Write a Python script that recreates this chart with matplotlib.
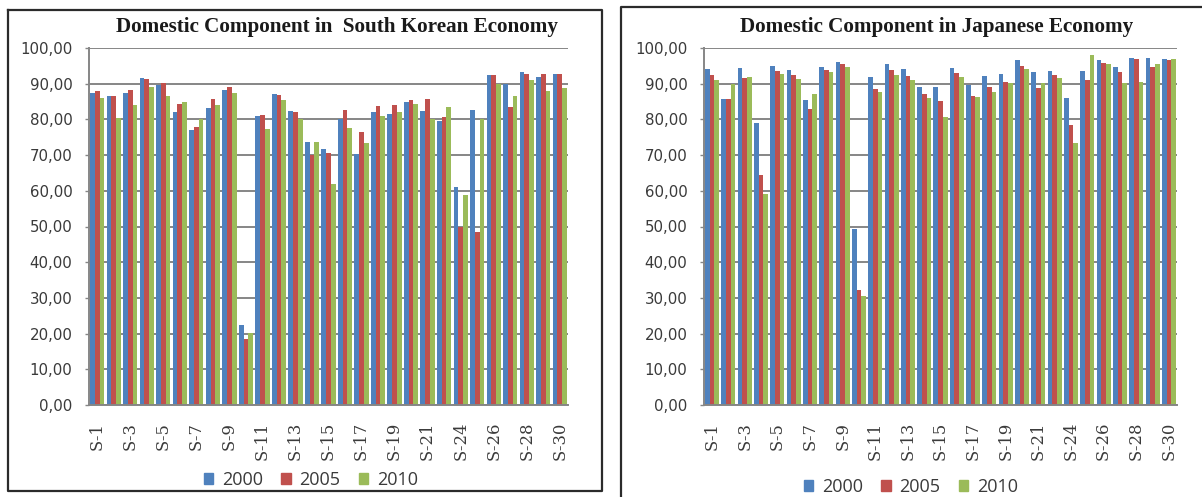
import matplotlib
matplotlib.use("Agg")
import matplotlib.pyplot as plt
from matplotlib.patches import Rectangle
from matplotlib.lines import Line2D
import numpy as np

# Sectors (S-22 is not part of the series)
sectors = [f"S-{i}" for i in range(1, 22)] + ["S-23"] + [f"S-{i}" for i in range(24, 31)]
years = ["2000", "2005", "2010"]

korea_2000 = [87.5, 86.5, 87.3, 91.5, 89.7, 82.0, 77.0, 83.3, 88.2, 22.5,
              81.0, 87.0, 82.3, 73.7, 71.8, 80.0, 70.3, 82.0, 81.5, 85.0,
              82.3, 79.6, 61.0, 82.5, 92.5, 90.0, 93.2, 91.8, 92.6]
korea_2005 = [88.0, 86.5, 88.2, 91.3, 90.2, 84.2, 78.0, 85.7, 89.2, 18.5,
              81.2, 86.8, 82.0, 70.0, 70.5, 82.5, 76.5, 83.8, 84.0, 85.5,
              85.8, 80.8, 50.0, 48.5, 92.5, 83.5, 92.7, 92.7, 92.6]
korea_2010 = [86.0, 80.5, 84.0, 89.0, 86.5, 85.0, 80.0, 84.0, 87.3, 20.3,
              77.3, 85.5, 80.0, 73.7, 61.8, 77.5, 73.3, 81.0, 82.0, 84.3,
              80.0, 83.5, 58.7, 80.0, 90.0, 86.5, 91.0, 88.0, 88.7]

japan_2000 = [94.2, 85.6, 94.5, 79.0, 95.0, 93.8, 85.5, 94.7, 96.0, 49.3,
              92.0, 95.5, 94.2, 89.0, 89.0, 94.4, 89.7, 92.2, 92.7, 96.5,
              93.3, 93.5, 86.0, 93.5, 96.6, 94.8, 97.3, 97.3, 96.8]
japan_2005 = [92.3, 85.6, 91.5, 64.3, 93.6, 92.3, 83.0, 93.8, 95.4, 32.3,
              88.5, 93.8, 92.2, 87.0, 85.2, 93.0, 86.5, 89.0, 90.5, 95.0,
              88.8, 92.5, 78.5, 91.0, 95.8, 93.4, 97.0, 94.7, 96.6]
japan_2010 = [91.0, 90.0, 92.0, 59.0, 92.8, 91.2, 87.0, 93.3, 94.8, 30.5,
              87.8, 92.5, 91.0, 86.0, 80.8, 92.0, 86.3, 87.8, 90.2, 94.0,
              90.2, 91.5, 73.5, 98.0, 95.6, 90.2, 90.5, 95.6, 96.8]

y_ticks = list(range(0, 101, 10))
y_tick_labels = [f"{v:.2f}".replace(".", ",") for v in y_ticks]

colors = ["#4F81BD", "#C0504D", "#9BBB59"]
grid_color = "#868686"
text_color = "#3a3a3a"

W, H = 1202, 497
fig = plt.figure(figsize=(W / 100, H / 100), dpi=100)
fig.patch.set_facecolor("white")


def fx(px):
    return px / W


def fy(py):
    return 1 - py / H


def panel(left, right, title, title_x, series, legend_x, legend_y):
    ax = fig.add_axes([fx(left), fy(405), fx(right - left), fy(48) - fy(405)])
    x = np.arange(len(sectors))
    bw = 0.287
    for k, (vals, c) in enumerate(zip(series, colors)):
        ax.bar(x + (k - 1) * bw, vals, width=bw, color=c, linewidth=0, zorder=2)
    ax.set_xlim(-0.5, len(sectors) - 0.5)
    ax.set_ylim(0, 100)
    ax.set_yticks(y_ticks)
    ax.set_yticklabels(y_tick_labels, family="DejaVu Sans", fontsize=10.8,
                       color=text_color)
    ax.set_xticks(x[::2])
    ax.set_xticklabels(sectors[::2], rotation=90, family="DejaVu Serif",
                       fontsize=11.8, color=text_color)
    ax.tick_params(axis="x", length=0, pad=12)
    ax.tick_params(axis="y", length=3, width=1, color=grid_color, pad=9)
    ax.grid(axis="y", color=grid_color, linewidth=1.4, zorder=0)
    ax.set_axisbelow(True)
    for s in ("top", "right"):
        ax.spines[s].set_visible(False)
    for s in ("left", "bottom"):
        ax.spines[s].set_color(grid_color)
        ax.spines[s].set_linewidth(1.4)
    fig.text(fx(title_x), fy(27), title, ha="center", va="center",
             family="Liberation Serif", fontweight="bold", fontsize=15.2,
             color="#1a1a1a")
    handles = [Rectangle((0, 0), 1, 1, color=c) for c in colors]
    fig.legend(handles, years, loc="center",
               bbox_to_anchor=(fx(legend_x), fy(legend_y)), ncol=3,
               frameon=False, prop={"family": "Open Sans", "size": 13},
               handlelength=0.5, handleheight=0.5, handletextpad=0.5,
               columnspacing=1.0, labelcolor=text_color)
    return ax


panel(89, 568, "Domestic Component in  South Korean Economy", 337,
      [korea_2000, korea_2005, korea_2010], 311, 480)
panel(704, 1177, "Domestic Component in Japanese Economy", 937,
      [japan_2000, japan_2005, japan_2010], 911, 487)

# Frames around the two chart areas
frame_kw = dict(color="#2b2b2b", linewidth=1.6, transform=fig.transFigure)
for xs, ys in [
    ([8, 602, 602, 8, 8], [10, 10, 491, 491, 10]),
    ([621, 621, 1202], [497, 7, 7]),
]:
    fig.add_artist(Line2D([fx(v) for v in xs], [fy(v) for v in ys], **frame_kw))

fig.savefig("out.png", dpi=100, facecolor="white")
